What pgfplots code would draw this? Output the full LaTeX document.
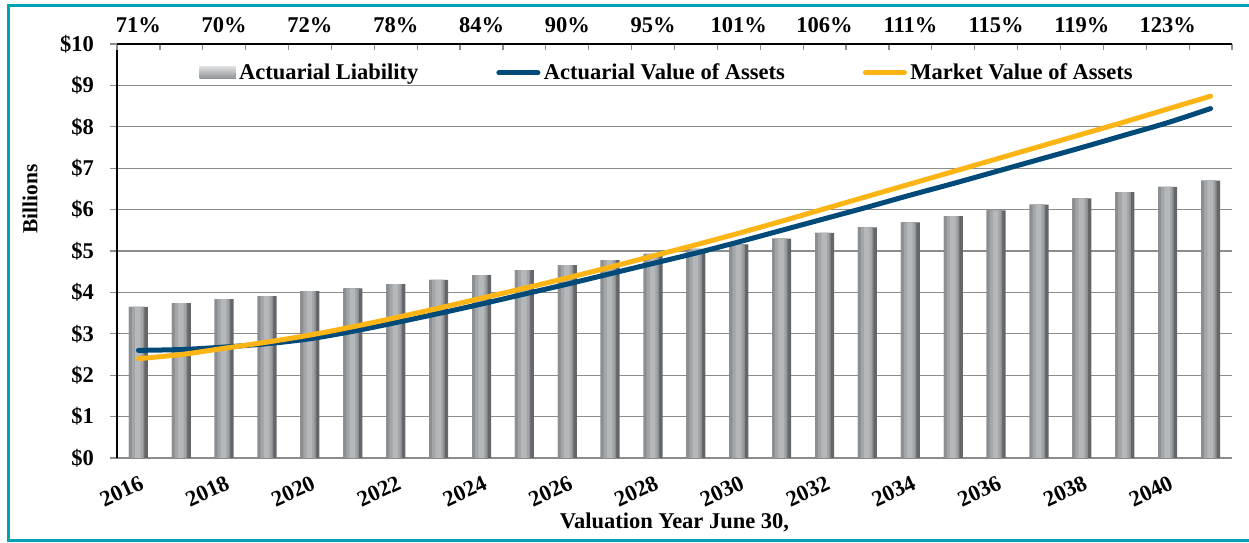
\documentclass[border=0pt]{standalone}
\usepackage{fontspec}
\setmainfont{Liberation Serif}
\usepackage{pgfplots}
\pgfplotsset{compat=1.18}
\definecolor{frame}{RGB}{0,163,180}
\definecolor{ava}{RGB}{0,74,121}
\definecolor{mva}{RGB}{253,181,21}
\definecolor{barA}{RGB}{100,102,105}
\definecolor{barB}{RGB}{140,143,146}
\definecolor{barC}{RGB}{163,166,169}
\definecolor{barD}{RGB}{181,184,187}
\definecolor{gridc}{RGB}{140,140,140}

\pgfplotstableread{
x  al    ava   mva
0  3.65  2.60  2.40
1  3.74  2.62  2.50
2  3.84  2.68  2.65
3  3.91  2.76  2.80
4  4.03  2.88  2.97
5  4.10  3.06  3.17
6  4.20  3.27  3.39
7  4.30  3.49  3.62
8  4.42  3.72  3.86
9  4.54  3.96  4.10
10 4.66  4.20  4.35
11 4.78  4.45  4.61
12 4.93  4.70  4.88
13 5.05  4.95  5.15
14 5.16  5.22  5.43
15 5.30  5.50  5.72
16 5.44  5.78  6.02
17 5.57  6.06  6.32
18 5.69  6.35  6.62
19 5.84  6.63  6.92
20 5.98  6.92  7.22
21 6.12  7.21  7.52
22 6.27  7.50  7.82
23 6.42  7.80  8.12
24 6.55  8.10  8.43
25 6.70  8.44  8.74
}\datatab

\begin{document}
\begin{tikzpicture}
\useasboundingbox (0,0) rectangle (24.98cm,10.86cm);
\draw[frame, line width=0.06cm] (25.3cm,10.75cm) -- (0.17cm,10.75cm) -- (0.17cm,0.04cm) -- (25.3cm,0.04cm);

\begin{axis}[
  at={(2.34cm,1.70cm)}, anchor=south west,
  scale only axis, width=22.3cm, height=8.28cm,
  xmin=-0.5, xmax=25.5, ymin=0, ymax=10,
  axis x line*=bottom, axis y line*=left,
  x axis line style={gridc, line width=0.7pt},
  y axis line style={black, line width=0.7pt},
  xtick={0,2,...,24},
  xticklabels={2016,2018,2020,2022,2024,2026,2028,2030,2032,2034,2036,2038,2040},
  xtick style={draw=none},
  xticklabel style={rotate=25, anchor=north east, inner sep=2pt, yshift=-3pt},
  ytick={0,...,10},
  yticklabels={\$0,\$1,\$2,\$3,\$4,\$5,\$6,\$7,\$8,\$9,\$10},
  ytick style={gridc, line width=0.7pt},
  tick align=outside, major tick length=0.14cm,
  yticklabel style={xshift=-0.2cm},
  ticklabel style={font=\bfseries\fontsize{12.8}{14}\selectfont},
  ymajorgrids, grid style={gridc, line width=0.7pt},
  xlabel={Valuation Year June 30,},
  xlabel style={at={(axis description cs:0.5,-0.155)}, anchor=center, font=\bfseries\fontsize{12.8}{14}\selectfont},
  ylabel={Billions},
  ylabel style={at={(axis description cs:-0.078,0.626)}, anchor=center, font=\bfseries\fontsize{12.2}{14}\selectfont},
  legend columns=3,
  legend style={draw=none, fill=none, at={(axis description cs:0.494,0.93)}, anchor=center,
    font=\bfseries\fontsize{12.8}{14}\selectfont,
    /tikz/every even column/.append style={column sep=1.49cm},
    /tikz/every odd column/.append style={column sep=0pt}},
]
\addplot[ybar, bar width=0.38cm, draw=none, fill=barA,
  legend image code/.code={\fill[top color=barD!50!white, bottom color=barB] (0cm,-0.12cm) rectangle (0.72cm,0.12cm);}]
  table[x=x, y=al] {\datatab};
\addlegendentry{Actuarial Liability}
\addplot[ybar, forget plot, bar width=0.31cm, bar shift=-0.035cm, draw=none, fill=barB]
  table[x=x, y=al] {\datatab};
\addplot[ybar, forget plot, bar width=0.22cm, bar shift=-0.02cm, draw=none, fill=barC]
  table[x=x, y=al] {\datatab};
\addplot[ybar, forget plot, bar width=0.11cm, bar shift=-0.01cm, draw=none, fill=barD]
  table[x=x, y=al] {\datatab};
\addplot[ava, line width=0.1cm, smooth, line cap=round,
  legend image code/.code={\draw[ava, line width=0.1cm, line cap=round] (0cm,0cm) -- (0.78cm,0cm);}]
  table[x=x, y=ava] {\datatab};
\addlegendentry{Actuarial Value of Assets}
\addplot[mva, line width=0.1cm, smooth, line cap=round,
  legend image code/.code={\draw[mva, line width=0.1cm, line cap=round] (0cm,0cm) -- (0.78cm,0cm);}]
  table[x=x, y=mva] {\datatab};
\addlegendentry{Market Value of Assets}
\end{axis}

\begin{axis}[
  at={(2.34cm,1.70cm)}, anchor=south west,
  scale only axis, width=22.3cm, height=8.28cm,
  xmin=-0.5, xmax=25.5, ymin=0, ymax=10,
  axis x line*=top, axis y line=none,
  x axis line style={black, line width=0.7pt},
  xtick={0,2,...,24},
  xticklabels={71\%,70\%,72\%,78\%,84\%,90\%,95\%,101\%,106\%,111\%,115\%,119\%,123\%},
  major tick length=0pt,
  minor xtick={-0.5,0.5,...,25.5},
  minor tick length=0.12cm, tick align=inside,
  minor tick style={gridc, line width=0.7pt},
  xticklabel style={font=\bfseries\fontsize{12.8}{14}\selectfont, yshift=0.1cm},
]
\end{axis}
\end{tikzpicture}
\end{document}
